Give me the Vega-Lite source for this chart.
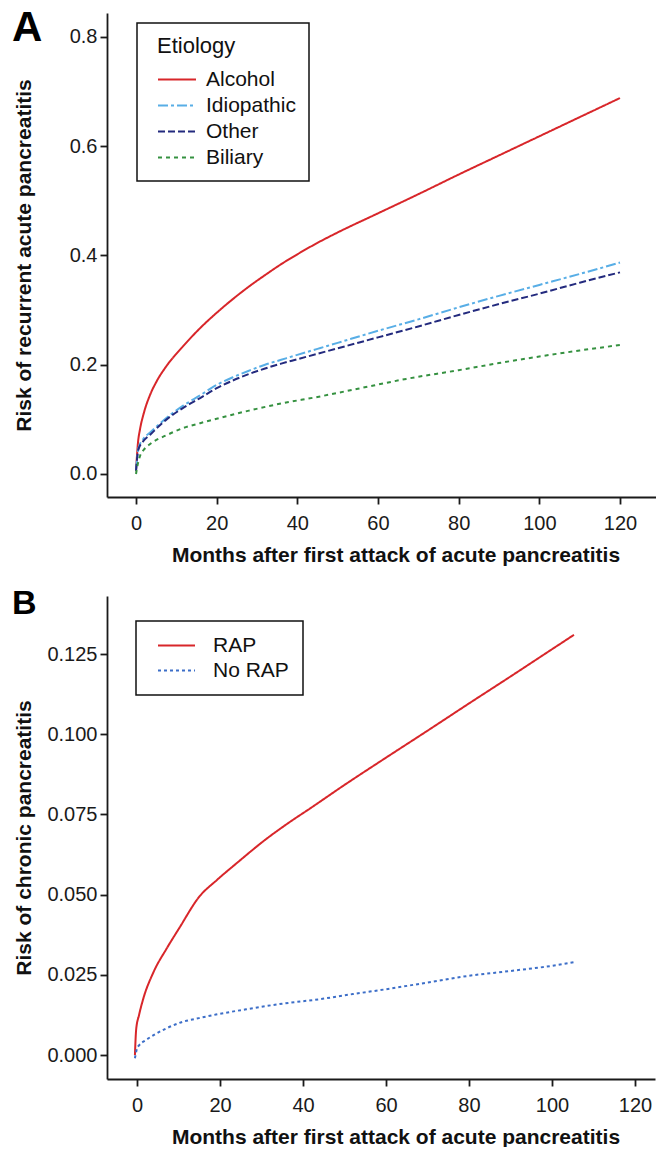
{
  "$schema": "https://vega.github.io/schema/vega-lite/v6.json",
  "padding": {"left": 12, "top": 7, "right": 0, "bottom": 0},
  "spacing": 22,
  "config": {
    "font": "Liberation Sans",
    "view": {"stroke": null},
    "axis": {
      "grid": false,
      "domainColor": "#1a1a1a",
      "domainWidth": 1.8,
      "tickColor": "#1a1a1a",
      "tickWidth": 1.8,
      "tickSize": 7,
      "labelFontSize": 20,
      "labelColor": "#1a1a1a",
      "titleFontSize": 21,
      "titleFontWeight": "bold",
      "titleColor": "#111111"
    },
    "legend": {
      "strokeColor": "#111111",
      "strokeWidth": 1.5,
      "labelColor": "#111111",
      "titleColor": "#111111"
    }
  },
  "datasets": {
    "a": [
      {"month": 0, "risk": 0.005, "etiology": "Alcohol"},
      {"month": 0.5, "risk": 0.058, "etiology": "Alcohol"},
      {"month": 1, "risk": 0.082, "etiology": "Alcohol"},
      {"month": 2, "risk": 0.113, "etiology": "Alcohol"},
      {"month": 3.5, "risk": 0.145, "etiology": "Alcohol"},
      {"month": 5, "risk": 0.168, "etiology": "Alcohol"},
      {"month": 7.6, "risk": 0.198, "etiology": "Alcohol"},
      {"month": 11.7, "risk": 0.234, "etiology": "Alcohol"},
      {"month": 15.9, "risk": 0.267, "etiology": "Alcohol"},
      {"month": 20, "risk": 0.295, "etiology": "Alcohol"},
      {"month": 24, "risk": 0.32, "etiology": "Alcohol"},
      {"month": 28, "risk": 0.343, "etiology": "Alcohol"},
      {"month": 32, "risk": 0.364, "etiology": "Alcohol"},
      {"month": 36, "risk": 0.384, "etiology": "Alcohol"},
      {"month": 40, "risk": 0.402, "etiology": "Alcohol"},
      {"month": 45, "risk": 0.423, "etiology": "Alcohol"},
      {"month": 50, "risk": 0.442, "etiology": "Alcohol"},
      {"month": 60, "risk": 0.477, "etiology": "Alcohol"},
      {"month": 70, "risk": 0.512, "etiology": "Alcohol"},
      {"month": 80, "risk": 0.548, "etiology": "Alcohol"},
      {"month": 90, "risk": 0.583, "etiology": "Alcohol"},
      {"month": 100, "risk": 0.618, "etiology": "Alcohol"},
      {"month": 110, "risk": 0.653, "etiology": "Alcohol"},
      {"month": 120, "risk": 0.688, "etiology": "Alcohol"},
      {"month": 0, "risk": 0.006, "etiology": "Idiopathic"},
      {"month": 0.6, "risk": 0.047, "etiology": "Idiopathic"},
      {"month": 1.8, "risk": 0.064, "etiology": "Idiopathic"},
      {"month": 3.5, "risk": 0.076, "etiology": "Idiopathic"},
      {"month": 7.6, "risk": 0.103, "etiology": "Idiopathic"},
      {"month": 11.7, "risk": 0.125, "etiology": "Idiopathic"},
      {"month": 15.9, "risk": 0.144, "etiology": "Idiopathic"},
      {"month": 20, "risk": 0.163, "etiology": "Idiopathic"},
      {"month": 24, "risk": 0.177, "etiology": "Idiopathic"},
      {"month": 28, "risk": 0.189, "etiology": "Idiopathic"},
      {"month": 32, "risk": 0.2, "etiology": "Idiopathic"},
      {"month": 36, "risk": 0.209, "etiology": "Idiopathic"},
      {"month": 40, "risk": 0.218, "etiology": "Idiopathic"},
      {"month": 45, "risk": 0.229, "etiology": "Idiopathic"},
      {"month": 50, "risk": 0.24, "etiology": "Idiopathic"},
      {"month": 60, "risk": 0.262, "etiology": "Idiopathic"},
      {"month": 70, "risk": 0.283, "etiology": "Idiopathic"},
      {"month": 80, "risk": 0.305, "etiology": "Idiopathic"},
      {"month": 90, "risk": 0.326, "etiology": "Idiopathic"},
      {"month": 100, "risk": 0.346, "etiology": "Idiopathic"},
      {"month": 110, "risk": 0.366, "etiology": "Idiopathic"},
      {"month": 120, "risk": 0.387, "etiology": "Idiopathic"},
      {"month": 0, "risk": 0.006, "etiology": "Other"},
      {"month": 0.6, "risk": 0.045, "etiology": "Other"},
      {"month": 1.8, "risk": 0.06, "etiology": "Other"},
      {"month": 3.5, "risk": 0.072, "etiology": "Other"},
      {"month": 7.6, "risk": 0.1, "etiology": "Other"},
      {"month": 11.7, "risk": 0.121, "etiology": "Other"},
      {"month": 15.9, "risk": 0.139, "etiology": "Other"},
      {"month": 20, "risk": 0.157, "etiology": "Other"},
      {"month": 24, "risk": 0.171, "etiology": "Other"},
      {"month": 28, "risk": 0.183, "etiology": "Other"},
      {"month": 32, "risk": 0.193, "etiology": "Other"},
      {"month": 36, "risk": 0.202, "etiology": "Other"},
      {"month": 40, "risk": 0.21, "etiology": "Other"},
      {"month": 45, "risk": 0.22, "etiology": "Other"},
      {"month": 50, "risk": 0.23, "etiology": "Other"},
      {"month": 60, "risk": 0.25, "etiology": "Other"},
      {"month": 70, "risk": 0.27, "etiology": "Other"},
      {"month": 80, "risk": 0.291, "etiology": "Other"},
      {"month": 90, "risk": 0.311, "etiology": "Other"},
      {"month": 100, "risk": 0.33, "etiology": "Other"},
      {"month": 110, "risk": 0.35, "etiology": "Other"},
      {"month": 120, "risk": 0.369, "etiology": "Other"},
      {"month": 0, "risk": 0.0, "etiology": "Biliary"},
      {"month": 0.5, "risk": 0.02, "etiology": "Biliary"},
      {"month": 1, "risk": 0.033, "etiology": "Biliary"},
      {"month": 2, "risk": 0.045, "etiology": "Biliary"},
      {"month": 3.5, "risk": 0.055, "etiology": "Biliary"},
      {"month": 7.6, "risk": 0.071, "etiology": "Biliary"},
      {"month": 11.7, "risk": 0.084, "etiology": "Biliary"},
      {"month": 15.9, "risk": 0.093, "etiology": "Biliary"},
      {"month": 20, "risk": 0.101, "etiology": "Biliary"},
      {"month": 28, "risk": 0.116, "etiology": "Biliary"},
      {"month": 36, "risk": 0.129, "etiology": "Biliary"},
      {"month": 45, "risk": 0.141, "etiology": "Biliary"},
      {"month": 55, "risk": 0.156, "etiology": "Biliary"},
      {"month": 67, "risk": 0.174, "etiology": "Biliary"},
      {"month": 80, "risk": 0.19, "etiology": "Biliary"},
      {"month": 90, "risk": 0.203, "etiology": "Biliary"},
      {"month": 100, "risk": 0.215, "etiology": "Biliary"},
      {"month": 110, "risk": 0.226, "etiology": "Biliary"},
      {"month": 120, "risk": 0.236, "etiology": "Biliary"}
    ],
    "b": [
      {"month": -0.5, "risk": 0.0, "group": "RAP"},
      {"month": -0.2, "risk": 0.008, "group": "RAP"},
      {"month": 0.5, "risk": 0.0125, "group": "RAP"},
      {"month": 1.5, "risk": 0.0175, "group": "RAP"},
      {"month": 4, "risk": 0.0259, "group": "RAP"},
      {"month": 7.1, "risk": 0.0331, "group": "RAP"},
      {"month": 10.1, "risk": 0.0394, "group": "RAP"},
      {"month": 15.1, "risk": 0.0495, "group": "RAP"},
      {"month": 19.2, "risk": 0.0545, "group": "RAP"},
      {"month": 24.2, "risk": 0.06, "group": "RAP"},
      {"month": 31, "risk": 0.0672, "group": "RAP"},
      {"month": 37, "risk": 0.0728, "group": "RAP"},
      {"month": 41.4, "risk": 0.0766, "group": "RAP"},
      {"month": 50, "risk": 0.0842, "group": "RAP"},
      {"month": 60, "risk": 0.0927, "group": "RAP"},
      {"month": 70, "risk": 0.1011, "group": "RAP"},
      {"month": 80, "risk": 0.1096, "group": "RAP"},
      {"month": 90, "risk": 0.118, "group": "RAP"},
      {"month": 100, "risk": 0.1265, "group": "RAP"},
      {"month": 105.3, "risk": 0.131, "group": "RAP"},
      {"month": -0.5, "risk": -0.001, "group": "No RAP"},
      {"month": 0, "risk": 0.002, "group": "No RAP"},
      {"month": 0.5, "risk": 0.003, "group": "No RAP"},
      {"month": 2.1, "risk": 0.0046, "group": "No RAP"},
      {"month": 4, "risk": 0.0062, "group": "No RAP"},
      {"month": 6.9, "risk": 0.0082, "group": "No RAP"},
      {"month": 10.9, "risk": 0.0103, "group": "No RAP"},
      {"month": 14.9, "risk": 0.0115, "group": "No RAP"},
      {"month": 19, "risk": 0.0126, "group": "No RAP"},
      {"month": 27, "risk": 0.0144, "group": "No RAP"},
      {"month": 35, "risk": 0.016, "group": "No RAP"},
      {"month": 44, "risk": 0.0174, "group": "No RAP"},
      {"month": 52, "risk": 0.019, "group": "No RAP"},
      {"month": 60, "risk": 0.0205, "group": "No RAP"},
      {"month": 70, "risk": 0.0226, "group": "No RAP"},
      {"month": 80, "risk": 0.0247, "group": "No RAP"},
      {"month": 90, "risk": 0.0262, "group": "No RAP"},
      {"month": 100, "risk": 0.0278, "group": "No RAP"},
      {"month": 105.7, "risk": 0.029, "group": "No RAP"}
    ]
  },
  "resolve": {"scale": {"color": "independent", "strokeDash": "independent"}, "legend": {"color": "independent", "strokeDash": "independent"}},
  "vconcat": [
    {
      "width": 549,
      "height": 484,
      "title": {"text": "A", "anchor": "start", "frame": "group", "fontSize": 42, "fontWeight": "bold", "color": "#000000", "baseline": "alphabetic", "offset": -70, "dx": -95},
      "data": {"name": "a"},
      "mark": {"type": "line", "strokeWidth": 2, "interpolate": "monotone"},
      "encoding": {
        "x": {"field": "month", "type": "quantitative",
          "scale": {"domain": [-7.19, 128.93], "nice": false, "zero": false},
          "axis": {"values": [0, 20, 40, 60, 80, 100, 120], "title": "Months after first attack of acute pancreatitis", "labelPadding": 9, "titleX": 288.5, "titleY": 64, "titleBaseline": "alphabetic"}},
        "y": {"field": "risk", "type": "quantitative",
          "scale": {"domain": [-0.0421, 0.8436], "nice": false, "zero": false},
          "axis": {"values": [0, 0.2, 0.4, 0.6, 0.8], "format": ".1f", "title": "Risk of recurrent acute pancreatitis", "labelPadding": 3, "titleX": -77, "titleBaseline": "alphabetic"}},
        "color": {"field": "etiology", "type": "nominal",
          "scale": {"domain": ["Alcohol", "Idiopathic", "Other", "Biliary"], "range": ["#d8262a", "#58aee6", "#232a7e", "#359140"]},
          "legend": {"title": "Etiology", "orient": "none", "legendX": 30, "legendY": 10, "padding": 13, "symbolType": "stroke", "symbolSize": 1444, "symbolStrokeWidth": 2, "symbolOffset": 7, "labelOffset": 9, "labelFontSize": 21, "titleFontSize": 22, "titleFontWeight": "normal", "titlePadding": 11, "rowPadding": 4, "clipHeight": 21, "encode": {"title": {"update": {"dx": {"value": 7}}}}}},
        "strokeDash": {"field": "etiology", "type": "nominal",
          "scale": {"domain": ["Alcohol", "Idiopathic", "Other", "Biliary"], "range": [[1, 0], [10, 3, 3, 3], [7, 3], [4, 4]]},
          "legend": {"title": "Etiology", "orient": "none", "legendX": 30, "legendY": 10, "padding": 13, "symbolType": "stroke", "symbolSize": 1444, "symbolStrokeWidth": 2, "symbolOffset": 7, "labelOffset": 9, "labelFontSize": 21, "titleFontSize": 22, "titleFontWeight": "normal", "titlePadding": 11, "rowPadding": 4, "clipHeight": 21, "encode": {"title": {"update": {"dx": {"value": 7}}}}}}
      }
    },
    {
      "width": 548,
      "height": 483,
      "title": {"text": "B", "anchor": "start", "frame": "group", "fontSize": 34, "fontWeight": "bold", "color": "#000000", "baseline": "alphabetic", "offset": -52, "dx": -95},
      "data": {"name": "b"},
      "mark": {"type": "line", "strokeWidth": 2, "interpolate": "monotone"},
      "encoding": {
        "x": {"field": "month", "type": "quantitative",
          "scale": {"domain": [-7.23, 124.82], "nice": false, "zero": false},
          "axis": {"values": [0, 20, 40, 60, 80, 100, 120], "title": "Months after first attack of acute pancreatitis", "labelPadding": 9, "titleX": 288.5, "titleY": 64, "titleBaseline": "alphabetic"}},
        "y": {"field": "risk", "type": "quantitative",
          "scale": {"domain": [-0.00748, 0.1431], "nice": false, "zero": false},
          "axis": {"values": [0, 0.025, 0.05, 0.075, 0.1, 0.125], "format": ".3f", "title": "Risk of chronic pancreatitis", "labelPadding": 3, "titleX": -77, "titleBaseline": "alphabetic"}},
        "color": {"field": "group", "type": "nominal",
          "scale": {"domain": ["RAP", "No RAP"], "range": ["#d8262a", "#3c6ec8"]},
          "legend": {"title": null, "orient": "none", "legendX": 29, "legendY": 25, "padding": 14, "symbolType": "stroke", "symbolSize": 1369, "symbolStrokeWidth": 2, "symbolOffset": 7, "labelOffset": 17, "labelFontSize": 21, "rowPadding": 3, "clipHeight": 21}},
        "strokeDash": {"field": "group", "type": "nominal",
          "scale": {"domain": ["RAP", "No RAP"], "range": [[1, 0], [3, 3]]},
          "legend": {"title": null, "orient": "none", "legendX": 29, "legendY": 25, "padding": 14, "symbolType": "stroke", "symbolSize": 1369, "symbolStrokeWidth": 2, "symbolOffset": 7, "labelOffset": 17, "labelFontSize": 21, "rowPadding": 3, "clipHeight": 21}}
      }
    }
  ]
}
